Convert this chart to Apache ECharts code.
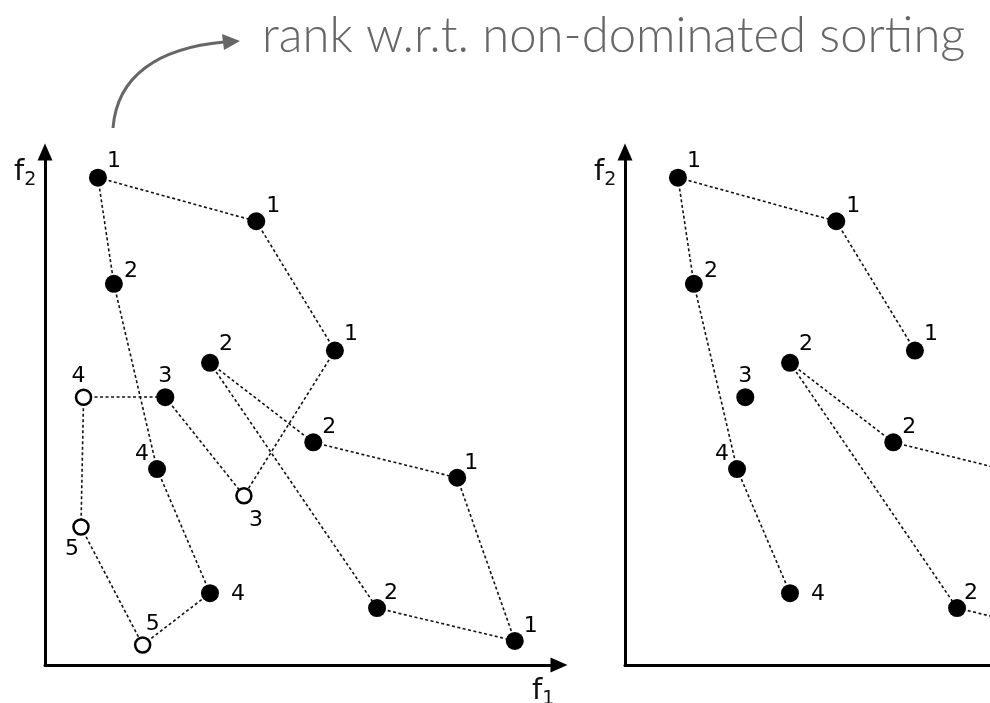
<!DOCTYPE html>
<html>
<head>
<meta charset="utf-8">
<script src="https://cdn.jsdelivr.net/npm/echarts@6/dist/echarts.min.js"></script>
<style>
  html, body { margin: 0; padding: 0; background: #fff; }
  #chart { width: 990px; height: 703px; }
</style>
</head>
<body>
<div id="chart"></div>
<script>
// objective values of the 16 solutions (axis units 0..10)
const f1Values = [1.03, 4.11, 5.64, 8.02, 9.14, 1.34, 3.21, 5.22, 6.46, 2.34, 3.87, 0.75, 2.18, 3.21, 0.70, 1.90];
const f2Values = [9.50, 8.65, 6.13, 3.65, 0.47, 7.43, 5.89, 4.34, 1.11, 5.22, 3.30, 5.22, 3.82, 1.40, 2.69, 0.39];
// rank w.r.t. non-dominated sorting
const ranks = [1, 1, 1, 1, 1, 2, 2, 2, 2, 3, 3, 4, 4, 4, 5, 5];
// open circle = solution drawn hollow in the left panel
const hollow = [0, 0, 0, 0, 0, 0, 0, 0, 0, 0, 1, 1, 0, 0, 1, 1];
// dotted links between solutions (index pairs)
const linksLeft = [[0, 1], [0, 5], [1, 2], [2, 10], [5, 12], [11, 9], [9, 10], [11, 14], [14, 15], [15, 13], [12, 13], [6, 7], [6, 8], [7, 3], [3, 4], [8, 4]];
// right panel keeps only some solutions and links
const pointsRight = [0, 1, 2, 3, 4, 5, 6, 7, 8, 9, 12, 13];
const linksRight = [[0, 1], [0, 5], [1, 2], [5, 12], [12, 13], [6, 7], [6, 8], [7, 3], [3, 4], [8, 4]];

// where each rank number sits relative to its dot (px)
const labelOffsets = [[16, -16], [17, -15], [16, -16], [14, -14], [16, -15], [17, -13], [16, -19], [16, -15], [14, -15], [0, -21], [12, 25], [-5, -21], [-15, -15], [28, 1], [-9, 22], [10, -21]];

const chart = echarts.init(document.getElementById('chart'));

// the right panel is cut by the picture edge: same scale as the left one
const panelWidth = 514;
const rightLeft = 625;
const rightMax = 10 * (990 - rightLeft) / panelWidth;

function axisLine(arrow) {
    return {
        show: true,
        onZero: false,
        symbol: ['none', arrow ? 'triangle' : 'none'],
        symbolSize: [15, 17],
        lineStyle: { color: '#000', width: 3 }
    };
}

function axis(idx, max, arrow) {
    return {
        type: 'value', gridIndex: idx, min: 0, max: max,
        axisLine: axisLine(arrow),
        axisTick: { show: false }, axisLabel: { show: false }, splitLine: { show: false }
    };
}

function panelSeries(idx, pts, links, showHollow) {
    const linkData = links.map(([a, b]) => ({
        coords: [[f1Values[a], f2Values[a]], [f1Values[b], f2Values[b]]]
    }));
    const dots = pts.map(i => {
        const open = showHollow && hollow[i];
        return {
            value: [f1Values[i], f2Values[i], ranks[i]],
            symbolSize: open ? 15 : 18,
            itemStyle: open
                ? { color: '#fff', borderColor: '#000', borderWidth: 2.5, opacity: 1 }
                : { color: '#000', borderWidth: 0, opacity: 1 },
            label: { offset: labelOffsets[i] }
        };
    });
    return [
        {
            type: 'lines',
            coordinateSystem: 'cartesian2d',
            xAxisIndex: idx,
            yAxisIndex: idx,
            z: 1,
            silent: true,
            lineStyle: { color: '#111', width: 1.6, type: [3, 2.5], opacity: 1, curveness: 0 },
            data: linkData
        },
        {
            type: 'scatter',
            xAxisIndex: idx,
            yAxisIndex: idx,
            z: 3,
            symbol: 'circle',
            label: {
                show: true,
                position: 'inside',
                formatter: p => String(p.value[2]),
                color: '#000',
                opacity: 1,
                fontFamily: 'DejaVu Sans',
                fontSize: 22
            },
            data: dots
        }
    ];
}

const axisName = (x, y, sub) => ({
    type: 'text',
    x: x,
    y: y,
    style: {
        text: '{f|f}{s|' + sub + '}',
        verticalAlign: 'bottom',
        rich: {
            f: { fontFamily: 'DejaVu Sans', fontSize: 29, fill: '#111', verticalAlign: 'bottom' },
            s: { fontFamily: 'DejaVu Sans', fontSize: 19, fill: '#111', verticalAlign: 'bottom', padding: [0, 0, -3, 0] }
        }
    }
});

chart.setOption({
    backgroundColor: '#fff',
    animation: false,
    grid: [
        { left: 45, top: 152, width: panelWidth, height: 513 },
        { left: rightLeft, top: 152, right: 0, height: 513 }
    ],
    xAxis: [axis(0, 10, true), axis(1, rightMax, false)],
    yAxis: [axis(0, 10, true), axis(1, 10, true)],
    series: [
        ...panelSeries(0, f1Values.map((_, i) => i), linksLeft, true),
        ...panelSeries(1, pointsRight, linksRight, false)
    ],
    graphic: [
        {
            type: 'bezierCurve',
            shape: { x1: 113, y1: 128, cpx1: 117, cpy1: 76, cpx2: 158, cpy2: 48, x2: 224, y2: 42 },
            style: { stroke: '#666', lineWidth: 3, fill: null }
        },
        {
            type: 'polygon',
            shape: { points: [[240, 41], [222, 34], [224, 50]] },
            style: { fill: '#666' }
        },
        {
            type: 'text',
            left: 262,
            top: 12,
            style: {
                text: 'rank w.r.t. non-dominated sorting',
                fontFamily: 'Lato',
                fontWeight: 300,
                fontSize: 49,
                fill: '#666'
            }
        },
        axisName(14, 187, '2'),
        axisName(594, 187, '2'),
        axisName(532, 706, '1')
    ]
});
</script>
</body>
</html>
